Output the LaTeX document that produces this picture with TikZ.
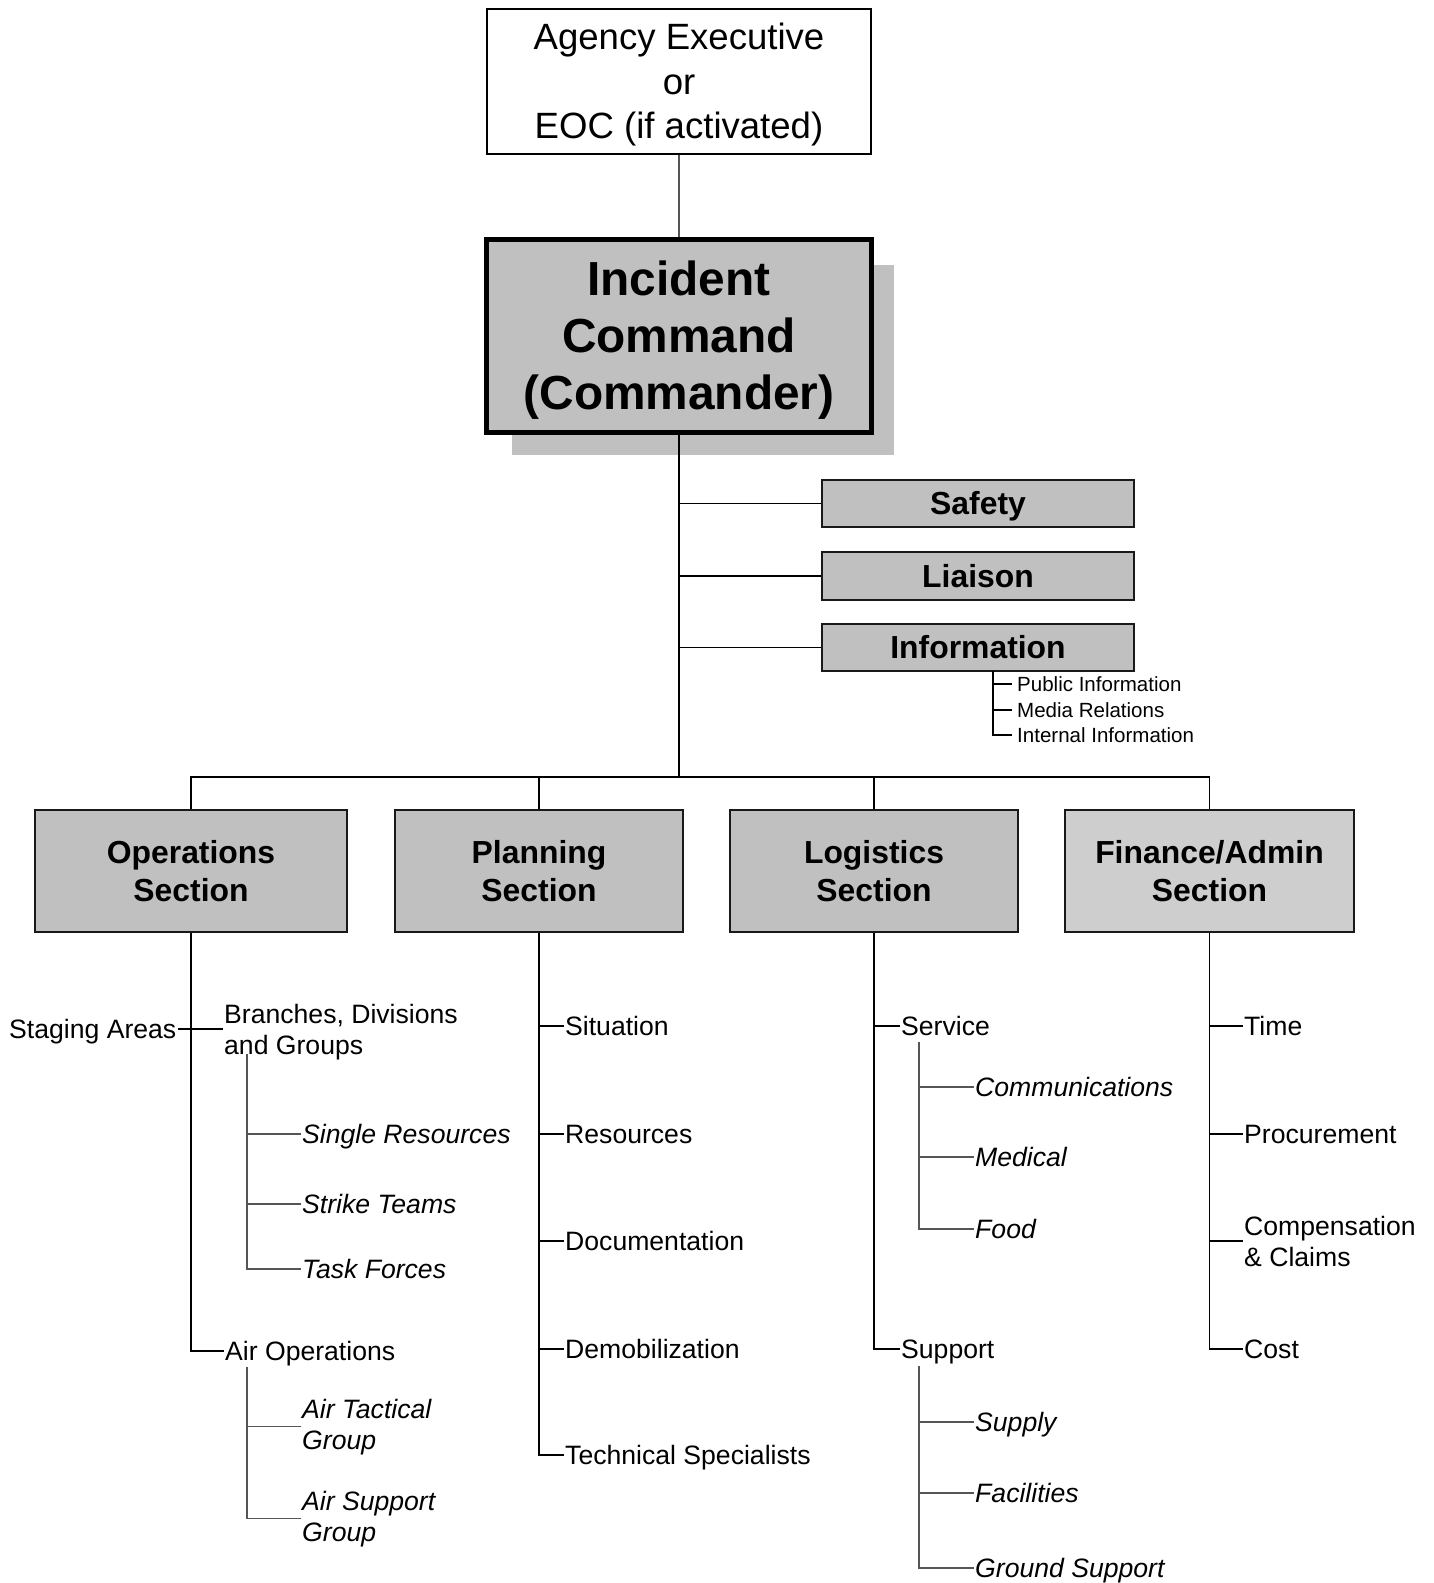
\documentclass[tikz,border=0pt]{standalone}
\usepackage{fontspec}
\setmainfont{Liberation Sans}
\definecolor{boxgray}{HTML}{C0C0C0}
\definecolor{fingray}{HTML}{CECECE}
\definecolor{linegray}{HTML}{555555}
\begin{document}
\begin{tikzpicture}[x=1bp,y=-1bp,
  box/.style={draw=black!90, fill=boxgray, line width=1.6bp, inner sep=0, align=center, anchor=center},
  secfont/.style={font=\fontsize{32}{38.5}\selectfont\bfseries, text height=61bp, text depth=0bp},
  stafffont/.style={font=\fontsize{32}{38}\selectfont\bfseries, text height=22.9bp, text depth=0bp},
  leaf/.style={anchor=west, inner sep=0, inner xsep=1.5bp, font=\fontsize{26.7}{31.6}\selectfont, text height=19.1bp, text depth=0bp},
  leafml/.style={anchor=base west, inner sep=0, inner xsep=1.5bp, align=left, font=\fontsize{26.7}{31.6}\selectfont},
  ital/.style={font=\fontsize{26.7}{31.6}\selectfont\itshape},
  small/.style={anchor=west, inner sep=0, inner xsep=5bp, font=\fontsize{20.6}{25.5}\selectfont, text height=14.75bp, text depth=0bp},
  conn/.style={line width=1.7bp, black},
  thinconn/.style={line width=1.1bp, linegray},
]
\useasboundingbox (0,0) rectangle (1434,1583);

% top boxes
\node[draw=black, line width=1.3bp, fill=white, minimum width=384bp, minimum height=145bp, inner sep=0, align=center,
      font=\fontsize{36.7}{44.4}\selectfont, text height=113.6bp, text depth=0bp] (top) at (679,81.5) {Agency Executive\\or\\EOC (if activated)};
\fill[boxgray] (512,265) rectangle (894,455);
\node[draw=black, fill=boxgray, line width=5bp, minimum width=385bp, minimum height=193bp, inner sep=0, align=center,
      font=\fontsize{48}{57}\selectfont\bfseries, text height=147.4bp, text depth=0bp] (ic) at (679,335.5) {Incident\\Command\\(Commander)};

% command staff
\node[box, stafffont, minimum width=312bp, minimum height=47bp] (safety) at (978,503.5) {Safety};
\node[box, stafffont, minimum width=312bp, minimum height=48bp] (liaison) at (978,576) {Liaison};
\node[box, stafffont, minimum width=312bp, minimum height=47bp] (info) at (978,647.5) {Information};

\node[small] (pub) at (1012,684) {Public Information};
\node[small] (media) at (1012,710) {Media Relations};
\node[small] (internal) at (1012,735) {Internal Information};
\coordinate (infob) at (993,671);

% sections
\node[box, secfont, minimum width=312bp, minimum height=122bp] (ops) at (191,871) {Operations\\Section};
\node[box, secfont, minimum width=288bp, minimum height=122bp] (plan) at (539,871) {Planning\\Section};
\node[box, secfont, minimum width=288bp, minimum height=122bp] (log) at (874,871) {Logistics\\Section};
\node[box, secfont, fill=fingray, minimum width=289bp, minimum height=122bp] (fin) at (1209.5,871) {Finance/Admin\\Section};
\coordinate (bus) at (679,777);

% operations leaves
\node[leaf] (staging) at (7.5,1029) {Staging Areas};
\node[leafml] (branches) at (222.5,1054.5) {Branches, Divisions\\and Groups};
\coordinate (bdg) at (247,1054);
\node[leaf, ital] (single) at (300.5,1134) {Single Resources};
\node[leaf, ital] (strike) at (300.5,1204) {Strike Teams};
\node[leaf, ital] (task) at (300.5,1269) {Task Forces};
\node[leaf] (airops) at (223.5,1351) {Air Operations};
\coordinate (airb) at (247,1367);
\node[leafml, ital] (airtac) at (300.5,1449.5) {Air Tactical\\Group};
\node[leafml, ital] (airsup) at (300.5,1541.5) {Air Support\\Group};

% planning leaves
\node[leaf] (situation) at (563.5,1026) {Situation};
\node[leaf] (resources) at (563.5,1134) {Resources};
\node[leaf] (documentation) at (563.5,1241) {Documentation};
\node[leaf] (demob) at (563.5,1349) {Demobilization};
\node[leaf] (tech) at (563.5,1455) {Technical Specialists};

% logistics leaves
\node[leaf] (service) at (899.5,1026) {Service};
\coordinate (servb) at (919,1042);
\node[leaf, ital] (comms) at (973.5,1087) {Communications};
\node[leaf, ital] (medical) at (973.5,1157) {Medical};
\node[leaf, ital] (food) at (973.5,1229) {Food};
\node[leaf] (support) at (899.5,1349) {Support};
\coordinate (suppb) at (919,1366);
\node[leaf, ital] (supply) at (973.5,1422) {Supply};
\node[leaf, ital] (facilities) at (973.5,1493) {Facilities};
\node[leaf, ital] (ground) at (973.5,1568) {Ground Support};

% finance leaves
\node[leaf] (time) at (1242.5,1026) {Time};
\node[leaf] (procurement) at (1242.5,1134) {Procurement};
\node[leafml] (comp) at (1242.5,1266.5) {Compensation\\\& Claims};
\node[leaf] (cost) at (1242.5,1349) {Cost};

% connectors
\draw[thinconn] (top.south) -- (ic.north);
\draw[conn] (ic.south) -- (bus);
\draw[conn] (ic.south) |- (safety.west);
\draw[conn] (ic.south) |- (liaison.west);
\draw[conn] (ic.south) |- (info.west);
\draw[conn] (infob) |- (pub.west);
\draw[conn] (infob) |- (media.west);
\draw[conn] (infob) |- (internal.west);

\draw[conn] (ops.north) |- (bus);
\draw[conn] (plan.north) |- (bus);
\draw[conn] (log.north) |- (bus);
\draw[conn] (fin.north) |- (bus);

\draw[conn] (ops.south) |- (airops.west);
\draw[conn] (staging.east) -- (staging.east -| branches.west);
\draw[thinconn] (bdg) |- (single.west);
\draw[thinconn] (bdg) |- (strike.west);
\draw[thinconn] (bdg) |- (task.west);
\draw[thinconn] (airb) |- (airtac.west);
\draw[thinconn] (airb) |- (airsup.west);

\draw[conn] (plan.south) |- (tech.west);
\draw[conn] (plan.south) |- (situation.west);
\draw[conn] (plan.south) |- (resources.west);
\draw[conn] (plan.south) |- (documentation.west);
\draw[conn] (plan.south) |- (demob.west);

\draw[conn] (log.south) |- (support.west);
\draw[conn] (log.south) |- (service.west);
\draw[thinconn] (servb) |- (comms.west);
\draw[thinconn] (servb) |- (medical.west);
\draw[thinconn] (servb) |- (food.west);
\draw[thinconn] (suppb) |- (supply.west);
\draw[thinconn] (suppb) |- (facilities.west);
\draw[thinconn] (suppb) |- (ground.west);

\draw[conn] (fin.south) |- (cost.west);
\draw[conn] (fin.south) |- (time.west);
\draw[conn] (fin.south) |- (procurement.west);
\draw[conn] (fin.south) |- (comp.west);
\end{tikzpicture}
\end{document}
